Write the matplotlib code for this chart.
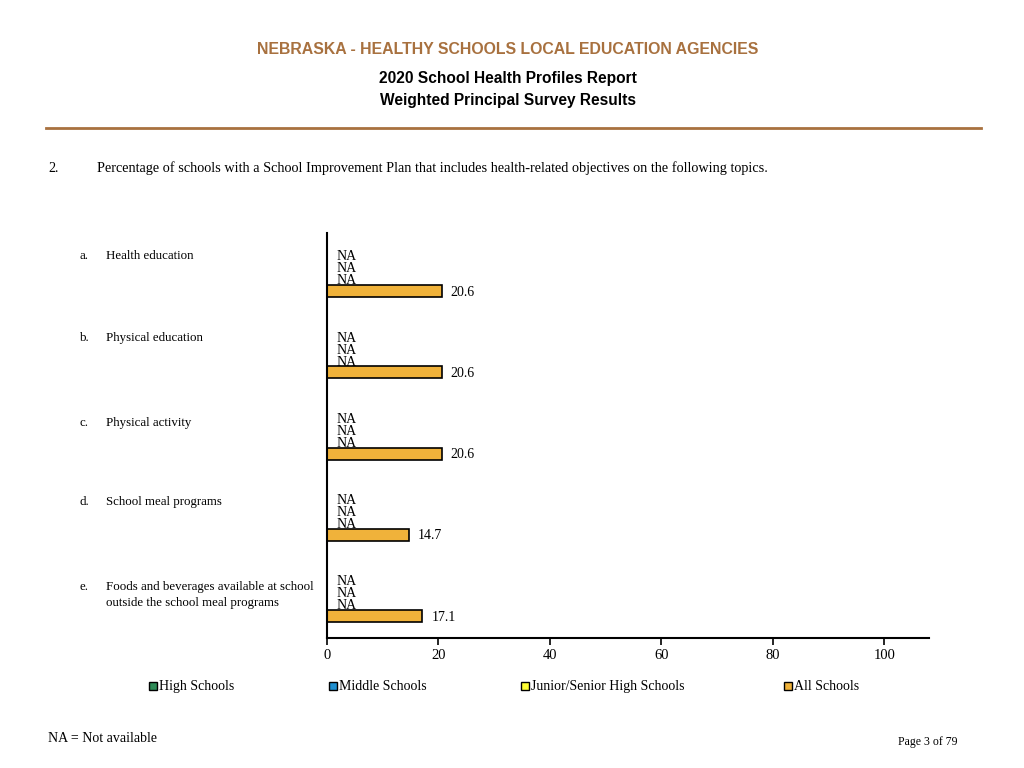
import matplotlib
matplotlib.use("Agg")
import matplotlib.pyplot as plt
from matplotlib.patches import Rectangle

# ---- data ----
letters = ["a.", "b.", "c.", "d.", "e."]
topics = ["Health education", "Physical education", "Physical activity",
          "School meal programs",
          "Foods and beverages available at school\noutside the school meal programs"]
series_names = ["High Schools", "Middle Schools", "Junior/Senior High Schools", "All Schools"]
high_schools = [None, None, None, None, None]
middle_schools = [None, None, None, None, None]
junior_senior = [None, None, None, None, None]
all_schools = [20.6, 20.6, 20.6, 14.7, 17.1]
xticks = [0, 20, 40, 60, 80, 100]

colors = ["#2E8B57", "#1F8FD0", "#FFFF33", "#F0B23A"]
brown = "#A8713F"
serif = ["Liberation Serif", "DejaVu Serif"]
sans = ["Liberation Sans", "DejaVu Sans"]

fig = plt.figure(figsize=(10.24, 7.68), dpi=100)

def fy(py):
    return 1 - py / 768

# header
fig.text(0.496, fy(50), "NEBRASKA - HEALTHY SCHOOLS LOCAL EDUCATION AGENCIES",
         ha="center", va="center", color=brown, fontsize=11.4, fontweight="bold", family=sans)
fig.text(0.496, fy(79), "2020 School Health Profiles Report",
         ha="center", va="center", color="black", fontsize=11.2, fontweight="bold", family=sans)
fig.text(0.496, fy(100), "Weighted Principal Survey Results",
         ha="center", va="center", color="black", fontsize=11.2, fontweight="bold", family=sans)
fig.add_artist(plt.Line2D([46/1024, 981/1024], [fy(128), fy(128)], color=brown, lw=2))

fig.text(48/1024, fy(172), "2.", ha="left", va="baseline", fontsize=10.2, family=serif)
fig.text(97/1024, fy(172),
         "Percentage of schools with a School Improvement Plan that includes health-related objectives on the following topics.",
         ha="left", va="baseline", fontsize=10.25, family=serif)

ax = fig.add_axes([327/1024, fy(638), (929 - 327)/1024, (638 - 233)/768])
series = [high_schools, middle_schools, junior_senior, all_schools]
gap = 6.75
for g in range(len(topics)):
    for k, vals in enumerate(series):
        y = g * gap + k
        v = vals[g]
        if v is None:
            ax.text(1.7, y + 0.15, "NA", ha="left", va="center", fontsize=10, family=serif)
        else:
            ax.barh(y, v, height=1.0, color=colors[k], edgecolor="black", linewidth=1.2)
            ax.text(v + 1.6, y + 0.1, f"{v:.1f}", ha="left", va="center", fontsize=10, family=serif)

ax.set_xlim(0, 108)
ax.set_ylim(4 * gap + 3 + 1.833, -1.833)
ax.set_yticks([])
ax.set_xticks(xticks)
ax.set_xticklabels([str(t) for t in xticks], fontsize=10.5, family=serif)
ax.tick_params(axis="x", direction="out", length=5, width=1.2, pad=3)
for s in ["top", "right"]:
    ax.spines[s].set_visible(False)
ax.spines["left"].set_linewidth(1.5)
ax.spines["bottom"].set_linewidth(1.5)

# category labels (baseline positions)
cat_base = [259, 341, 426, 505, 590]
for i, (l, t) in enumerate(zip(letters, topics)):
    fig.text(80/1024, fy(cat_base[i]), l, ha="left", va="baseline", fontsize=9.3, family=serif)
    lines = t.split("\n")
    for j, line in enumerate(lines):
        fig.text(106/1024, fy(cat_base[i] + 16 * j), line, ha="left", va="baseline",
                 fontsize=9.3, family=serif)

# legend
leg_x = [149, 329, 521, 784]
for x, name, c in zip(leg_x, series_names, colors):
    fig.add_artist(Rectangle((x/1024, fy(690)), 8/1024, 8/768,
                             facecolor=c, edgecolor="black", lw=1.0))
    fig.text((x + 10)/1024, fy(690), name, ha="left", va="baseline", fontsize=10, family=serif)

fig.text(48/1024, fy(742), "NA = Not available", ha="left", va="baseline", fontsize=10, family=serif)
fig.text(957/1024, fy(745), "Page 3 of 79", ha="right", va="baseline", fontsize=8.5, family=serif)

fig.savefig("out.png", dpi=100)
